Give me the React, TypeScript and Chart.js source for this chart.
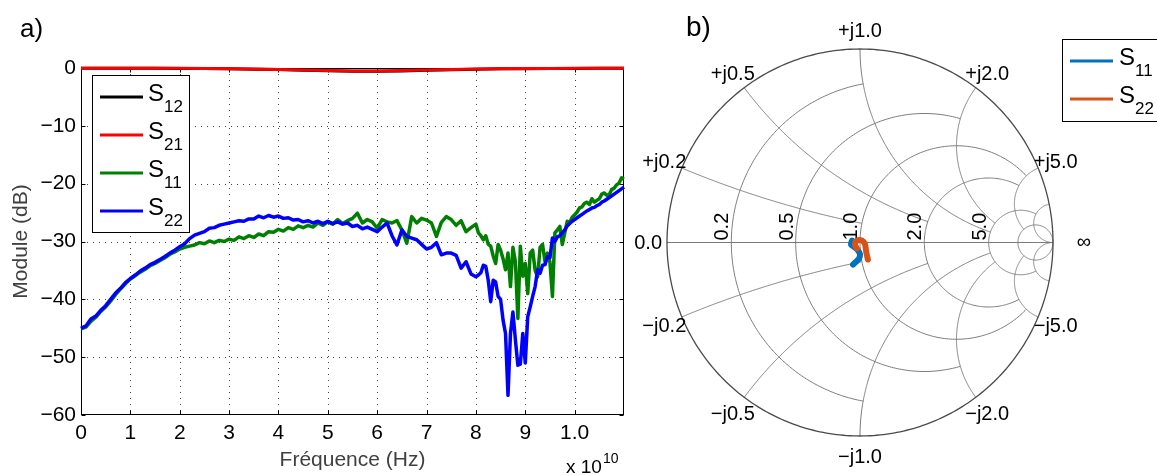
import React, { useEffect, useRef } from "react";
import { Chart, registerables } from "chart.js";

Chart.register(...registerables);

const FONT = "'Liberation Sans', Arial, Helvetica, sans-serif";

// ---------- Panel a) : S-parameter magnitudes ----------
const xTicksGHz = [0, 1, 2, 3, 4, 5, 6, 7, 8, 9, 10];
const yTicksDb = [-60, -50, -40, -30, -20, -10, 0];
const coarseFreqGHz = [0, 0.5, 1, 1.5, 2, 2.5, 3, 3.5, 4, 4.5, 5, 5.5, 6, 6.5, 7, 7.5, 8, 8.5, 9, 9.5, 10, 10.5, 11];
const lowFreqGHz = Array.from({ length: 80 }, (_, i) => i / 10); // 0 .. 7.9 GHz
const highFreqGHz = Array.from({ length: 61 }, (_, i) => 8 + i / 20); // 8 .. 11 GHz

const s12Db = [-0.03, -0.03, -0.04, -0.05, -0.07, -0.1, -0.14, -0.2, -0.28, -0.38, -0.48, -0.55, -0.56, -0.5, -0.4, -0.3, -0.2, -0.15, -0.11, -0.09, -0.07, -0.05, -0.05];
const s21Db = [-0.03, -0.03, -0.04, -0.05, -0.06, -0.08, -0.12, -0.18, -0.26, -0.35, -0.45, -0.52, -0.52, -0.45, -0.35, -0.25, -0.18, -0.13, -0.1, -0.08, -0.06, -0.05, -0.05];

const s11LowDb = [
  -45.1, -44.8, -43.8, -43.1, -42.1, -41.3, -40.3, -39.2, -38.2, -37.3,
  -36.5, -35.9, -35.3, -34.8, -34.2, -33.8, -33.3, -32.8, -32.2, -31.8,
  -31.3, -31.0, -30.8, -30.6, -30.2, -30.4, -29.9, -30.2, -29.8, -30.0,
  -29.6, -29.8, -29.2, -29.5, -29.0, -29.3, -28.7, -29.0, -28.3, -28.4,
  -27.9, -28.2, -27.6, -27.9, -27.3, -27.6, -27.2, -27.5, -26.8, -27.2,
  -26.6, -27.0, -26.2, -26.9, -26.4, -26.0, -25.1, -26.8, -26.2, -26.6,
  -27.7, -26.2, -26.6, -26.8, -26.4, -28.0, -30.3, -25.7, -26.8, -26.0,
  -26.3, -26.8, -29.1, -26.7, -25.7, -26.2, -27.2, -26.4, -28.3, -27.6,
];
const s11HighDb = [
  -27.0, -28.5, -29.0, -29.7, -29.0, -30.5, -30.8, -32.5, -33.8, -30.5,
  -31.5, -33.0, -34.9, -32.0, -37.8, -31.0, -33.5, -43.3, -30.8, -36.0,
  -33.8, -39.0, -32.0, -31.5, -35.0, -36.1, -31.0, -30.5, -33.5, -32.0,
  -33.6, -39.5, -28.5, -28.0, -27.4, -30.5, -28.5, -26.5, -26.7, -25.8,
  -25.4, -24.9, -24.2, -24.0, -23.4, -23.2, -23.6, -22.6, -23.2, -22.9,
  -22.6, -21.8, -21.6, -22.0, -21.9, -21.0, -20.8, -20.2, -19.9, -19.0,
  -19.2,
];

const s22LowDb = [
  -45.0, -44.6, -43.4, -42.9, -41.9, -41.1, -40.0, -38.9, -38.1, -37.1,
  -36.4, -35.8, -35.1, -34.6, -34.0, -33.6, -33.1, -32.6, -32.0, -31.5,
  -30.9, -30.4, -29.5, -28.9, -28.6, -28.3, -27.7, -27.6, -27.2, -27.0,
  -26.8, -26.6, -26.4, -26.5, -26.1, -26.1, -25.6, -25.9, -25.5, -25.8,
  -25.6, -26.0, -25.9, -26.3, -26.2, -26.6, -26.4, -26.8, -26.5, -26.9,
  -26.5, -26.9, -26.6, -27.0, -26.8, -27.4, -27.2, -27.8, -27.5, -27.9,
  -28.3, -27.5, -26.8, -29.0, -30.6, -28.0, -29.1, -29.4, -29.7, -30.5,
  -31.3, -31.0, -30.2, -32.3, -32.0, -32.0, -32.4, -34.6, -33.5, -35.6,
];
const s22HighDb = [
  -36.1, -35.8, -35.4, -34.1, -34.3, -36.7, -40.4, -36.7, -37.0, -39.5,
  -40.0, -43.6, -45.9, -56.6, -45.9, -42.2, -47.0, -51.4, -51.2, -45.9,
  -51.0, -43.0, -41.3, -39.5, -37.8, -34.9, -35.5, -34.1, -34.0, -32.6,
  -32.8, -29.4, -30.0, -29.2, -29.0, -28.5, -28.0, -27.3, -26.9, -26.5,
  -26.2, -25.9, -25.6, -25.3, -25.0, -24.7, -24.5, -24.2, -24.1, -23.8,
  -23.6, -23.2, -23.0, -22.7, -22.4, -22.1, -21.8, -21.5, -21.2, -20.9,
  -20.6,
];

const seriesNamesA = ["S12", "S21", "S11", "S22"];
const seriesColorsA = ["#000000", "#ff0000", "#008000", "#0000ff"];

// ---------- Panel b) : Smith chart ----------
const smithS11Re = [-0.041, -0.047, -0.026, -0.01, 0.0, -0.005, -0.026, -0.036];
const smithS11Im = [0.01, -0.01, -0.026, -0.041, -0.062, -0.083, -0.104, -0.114];
const smithS22Re = [-0.016, -0.026, -0.016, 0.01, 0.026, 0.031, 0.036, 0.041];
const smithS22Im = [-0.031, -0.01, 0.01, 0.01, -0.01, -0.041, -0.067, -0.088];
const seriesNamesB = ["S11", "S22"];
const seriesColorsB = ["#0072BD", "#D95319"];

const gridValues = [10, 5, 2, 1, 0.5, 0.2];
const gridLimits = [Infinity, 10, 5, 5, 2, 1];
const resistanceLabelValues = [0.2, 0.5, 1, 2, 5];
const reactanceLabelValues = [0.2, 0.5, 1, 2, 5];

function drawSubText(ctx: CanvasRenderingContext2D, name: string, x: number, yMid: number) {
  ctx.fillStyle = "#000";
  ctx.textAlign = "left";
  ctx.textBaseline = "alphabetic";
  ctx.font = `24px ${FONT}`;
  const main = name.slice(0, 1);
  ctx.fillText(main, x, yMid + 3.5);
  const w = ctx.measureText(main).width;
  ctx.font = `17px ${FONT}`;
  ctx.fillText(name.slice(1), x + w, yMid + 15);
}

const leftDecor = {
  id: "leftDecor",
  beforeDatasetsDraw(chart: any) {
    const { ctx, chartArea: a, scales } = chart;
    const xs = scales.x, ys = scales.y;
    ctx.save();
    ctx.lineWidth = 1;
    ctx.strokeStyle = "#444";
    ctx.setLineDash([1, 5]);
    for (const v of xTicksGHz) {
      if (v === 0) continue;
      const px = Math.round(xs.getPixelForValue(v)) + 0.5;
      ctx.beginPath(); ctx.moveTo(px, a.top); ctx.lineTo(px, a.bottom); ctx.stroke();
    }
    for (const v of yTicksDb) {
      if (v === 0 || v === -60) continue;
      const py = Math.round(ys.getPixelForValue(v)) + 0.5;
      ctx.beginPath(); ctx.moveTo(a.left, py); ctx.lineTo(a.right, py); ctx.stroke();
    }
    ctx.setLineDash([]);
    ctx.strokeStyle = "#000";
    const L = Math.round(a.left) + 0.5, R = Math.round(a.right) - 0.5;
    const T = Math.round(a.top) + 0.5, B = Math.round(a.bottom) - 0.5;
    ctx.strokeRect(L, T, R - L, B - T);
    const tl = 4;
    for (const v of xTicksGHz) {
      const px = Math.round(xs.getPixelForValue(v)) + 0.5;
      ctx.beginPath();
      ctx.moveTo(px, B); ctx.lineTo(px, B - tl);
      ctx.moveTo(px, T); ctx.lineTo(px, T + tl);
      ctx.stroke();
    }
    for (const v of yTicksDb) {
      const py = Math.round(ys.getPixelForValue(v)) + 0.5;
      ctx.beginPath();
      ctx.moveTo(L, py); ctx.lineTo(L + tl, py);
      ctx.moveTo(R, py); ctx.lineTo(R - tl, py);
      ctx.stroke();
    }
    ctx.restore();
  },
  afterDatasetsDraw(chart: any) {
    const { ctx, chartArea: a } = chart;
    ctx.save();
    const bx = a.left + 11, by = a.top + 7, bw = 97, bh = 157;
    ctx.fillStyle = "#fff";
    ctx.fillRect(bx, by, bw, bh);
    ctx.strokeStyle = "#000";
    ctx.lineWidth = 1;
    ctx.strokeRect(Math.round(bx) + 0.5, Math.round(by) + 0.5, bw, bh);
    seriesNamesA.forEach((name, i) => {
      const yy = by + 22 + i * 38;
      ctx.strokeStyle = seriesColorsA[i];
      ctx.lineWidth = 3;
      ctx.beginPath(); ctx.moveTo(bx + 8, yy); ctx.lineTo(bx + 51, yy); ctx.stroke();
      drawSubText(ctx, name, bx + 56, yy);
    });
    ctx.fillStyle = "#000";
    ctx.font = `26px ${FONT}`;
    ctx.textAlign = "left";
    ctx.textBaseline = "alphabetic";
    ctx.fillText("a)", 20, 37);
    ctx.font = `19px ${FONT}`;
    ctx.fillText("x 10", 566, 473);
    const w = ctx.measureText("x 10").width;
    ctx.font = `14px ${FONT}`;
    ctx.fillText("10", 566 + w + 1, 463);
    ctx.restore();
  },
};

function gam(r: number, x: number): [number, number] {
  const d = (r + 1) * (r + 1) + x * x;
  return [(r * r - 1 + x * x) / d, (2 * x) / d];
}

const smithDecor = {
  id: "smithDecor",
  beforeDatasetsDraw(chart: any) {
    const { ctx, scales } = chart;
    const xs = scales.x, ys = scales.y;
    const P = (re: number, im: number) => [xs.getPixelForValue(re), ys.getPixelForValue(im)];
    const poly = (pts: number[][]) => {
      ctx.beginPath();
      pts.forEach(([re, im], i) => {
        const [px, py] = P(re, im);
        if (i) ctx.lineTo(px, py); else ctx.moveTo(px, py);
      });
      ctx.stroke();
    };
    const N = 240;
    ctx.save();
    ctx.strokeStyle = "#7a7a7a";
    ctx.lineWidth = 1;
    gridValues.forEach((v, k) => {
      const lim = gridLimits[k];
      const c = v / (1 + v), rad = 1 / (1 + v);
      let t0 = 0;
      if (isFinite(lim)) {
        const g = gam(v, lim);
        t0 = Math.atan2(g[1], g[0] - c);
      }
      const rp: number[][] = [];
      for (let i = 0; i <= N; i++) {
        const t = t0 + ((2 * Math.PI - 2 * t0) * i) / N;
        rp.push([c + rad * Math.cos(t), rad * Math.sin(t)]);
      }
      poly(rp);
      for (const s of [1, -1]) {
        const xv = s * v, cy = 1 / xv, rr = 1 / v;
        const g0 = gam(0, xv);
        const g1 = isFinite(lim) ? gam(lim, xv) : [1, 0];
        let a0 = Math.atan2(g0[1] - cy, g0[0] - 1);
        let a1 = Math.atan2(g1[1] - cy, g1[0] - 1);
        if (s > 0) {
          if (a0 > 0) a0 -= 2 * Math.PI;
          if (a1 > 0) a1 -= 2 * Math.PI;
        } else {
          if (a0 < 0) a0 += 2 * Math.PI;
          if (a1 < 0) a1 += 2 * Math.PI;
        }
        const xp: number[][] = [];
        for (let i = 0; i <= N; i++) {
          const t = a0 + ((a1 - a0) * i) / N;
          xp.push([1 + rr * Math.cos(t), cy + rr * Math.sin(t)]);
        }
        poly(xp);
      }
    });
    poly([[-1, 0], [1, 0]]);
    ctx.strokeStyle = "#4a4a4a";
    ctx.lineWidth = 1.3;
    const oc: number[][] = [];
    for (let i = 0; i <= 360; i++) oc.push([Math.cos((i * Math.PI) / 180), Math.sin((i * Math.PI) / 180)]);
    poly(oc);

    ctx.fillStyle = "#000";
    ctx.font = `20px ${FONT}`;
    const [cx, cyp] = P(0, 0);
    const [rxp] = P(1, 0);
    const Rpx = rxp - cx;
    for (const r of resistanceLabelValues) {
      const [px, py] = P((r - 1) / (r + 1), 0);
      ctx.save();
      ctx.translate(px - 3, py - 2);
      ctx.rotate(-Math.PI / 2);
      ctx.textAlign = "left";
      ctx.textBaseline = "alphabetic";
      ctx.fillText(r.toFixed(1), 0, 0);
      ctx.restore();
    }
    for (const v of reactanceLabelValues) {
      for (const s of [1, -1]) {
        const g = gam(0, s * v);
        const [px, py] = P(g[0], g[1]);
        const dx = (px - cx) / Rpx, dy = (py - cyp) / Rpx;
        ctx.textAlign = "center";
        ctx.textBaseline = "middle";
        ctx.fillText((s > 0 ? "+j" : "\u2212j") + v.toFixed(1), px + dx * 19, py + dy * 19 + 2);
      }
    }
    const [lx, ly] = P(-1, 0);
    ctx.textAlign = "right";
    ctx.textBaseline = "middle";
    ctx.fillText("0.0", lx - 5, ly + 1);
    ctx.textAlign = "center";
    ctx.fillText("\u221E", rxp + 31, cyp);
    ctx.restore();
  },
  afterDatasetsDraw(chart: any) {
    const { ctx } = chart;
    ctx.save();
    ctx.fillStyle = "#000";
    ctx.font = `28px ${FONT}`;
    ctx.textAlign = "left";
    ctx.textBaseline = "alphabetic";
    ctx.fillText("b)", 56, 36);
    const bx = 432, by = 39, bw = 110, bh = 82;
    ctx.fillStyle = "#fff";
    ctx.fillRect(bx, by, bw, bh);
    ctx.strokeStyle = "#000";
    ctx.lineWidth = 1;
    ctx.strokeRect(bx + 0.5, by + 0.5, bw, bh);
    seriesNamesB.forEach((name, i) => {
      const yy = by + 22 + i * 38;
      ctx.strokeStyle = seriesColorsB[i];
      ctx.lineWidth = 3;
      ctx.beginPath(); ctx.moveTo(bx + 8, yy); ctx.lineTo(bx + 51, yy); ctx.stroke();
      drawSubText(ctx, name, bx + 57, yy);
    });
    ctx.restore();
  },
};

export default function App() {
  const leftRef = useRef<HTMLCanvasElement>(null);
  const rightRef = useRef<HTMLCanvasElement>(null);

  useEffect(() => {
    const mk = (xsArr: number[], ys: number[]) => xsArr.map((x, i) => ({ x, y: ys[i] }));
    const fineFreq = [...lowFreqGHz, ...highFreqGHz];
    const left = new Chart(leftRef.current!, {
      type: "line",
      data: {
        datasets: [
          { label: seriesNamesA[0], data: mk(coarseFreqGHz, s12Db), borderColor: seriesColorsA[0], borderWidth: 3, order: 4 },
          { label: seriesNamesA[1], data: mk(coarseFreqGHz, s21Db), borderColor: seriesColorsA[1], borderWidth: 3, order: 3 },
          { label: seriesNamesA[2], data: mk(fineFreq, [...s11LowDb, ...s11HighDb]), borderColor: seriesColorsA[2], borderWidth: 3.5, order: 2 },
          { label: seriesNamesA[3], data: mk(fineFreq, [...s22LowDb, ...s22HighDb]), borderColor: seriesColorsA[3], borderWidth: 3.5, order: 1 },
        ].map((d) => ({ ...d, pointRadius: 0, tension: 0, fill: false, clip: false as any, borderJoinStyle: "round" as const })),
      },
      options: {
        animation: false,
        responsive: false,
        layout: { padding: { left: 0, top: 68, right: 6, bottom: 0 } },
        plugins: { legend: { display: false }, tooltip: { enabled: false } },
        scales: {
          x: {
            type: "linear",
            min: 0,
            max: 11,
            afterBuildTicks: (s: any) => { s.ticks = xTicksGHz.map((v) => ({ value: v })); },
            afterFit: (s: any) => { s.height = 60; },
            grid: { display: false, drawTicks: false },
            border: { display: false },
            ticks: {
              autoSkip: false,
              maxRotation: 0,
              padding: 6,
              color: "#000",
              font: { family: FONT, size: 21 },
              callback: (v: any) => (v >= 10 ? (v / 10).toFixed(1) : String(v)),
            },
            title: {
              display: true,
              text: "Fréquence (Hz)",
              color: "#404040",
              font: { family: FONT, size: 21 },
              padding: { top: 0, bottom: 2 },
            },
          },
          y: {
            type: "linear",
            min: -60,
            max: 0,
            afterBuildTicks: (s: any) => { s.ticks = yTicksDb.map((v) => ({ value: v })); },
            afterFit: (s: any) => { s.width = 81; },
            grid: { display: false, drawTicks: false },
            border: { display: false },
            ticks: {
              padding: 5,
              color: "#000",
              font: { family: FONT, size: 21 },
              callback: (v: any) => (v < 0 ? "\u2212" + Math.abs(v) : String(v)),
            },
            title: {
              display: true,
              text: "Module (dB)",
              color: "#404040",
              font: { family: FONT, size: 21 },
              padding: { top: 9, bottom: 0 },
            },
          },
        },
      },
      plugins: [leftDecor],
    });

    const right = new Chart(rightRef.current!, {
      type: "scatter",
      data: {
        datasets: [
          { label: seriesNamesB[0], data: mk(smithS11Re, smithS11Im), borderColor: seriesColorsB[0], backgroundColor: seriesColorsB[0], order: 2 },
          { label: seriesNamesB[1], data: mk(smithS22Re, smithS22Im), borderColor: seriesColorsB[1], backgroundColor: seriesColorsB[1], order: 1 },
        ].map((d) => ({
          ...d,
          showLine: true,
          borderWidth: 6,
          pointRadius: 0,
          tension: 0.3,
          borderCapStyle: "round" as const,
          borderJoinStyle: "round" as const,
        })),
      },
      options: {
        animation: false,
        responsive: false,
        layout: { padding: { left: 37, right: 104, top: 49, bottom: 39 } },
        plugins: { legend: { display: false }, tooltip: { enabled: false } },
        scales: {
          x: { type: "linear", min: -1, max: 1, display: false },
          y: { type: "linear", min: -1, max: 1, display: false },
        },
      },
      plugins: [smithDecor],
    });

    return () => {
      left.destroy();
      right.destroy();
    };
  }, []);

  return (
    <div style={{ position: "absolute", left: 0, top: 0, width: 1157, height: 475, background: "#fff", overflow: "hidden" }}>
      <canvas ref={leftRef} width={630} height={475} style={{ position: "absolute", left: 0, top: 0, width: 630, height: 475 }} />
      <canvas ref={rightRef} width={527} height={475} style={{ position: "absolute", left: 630, top: 0, width: 527, height: 475 }} />
    </div>
  );
}
